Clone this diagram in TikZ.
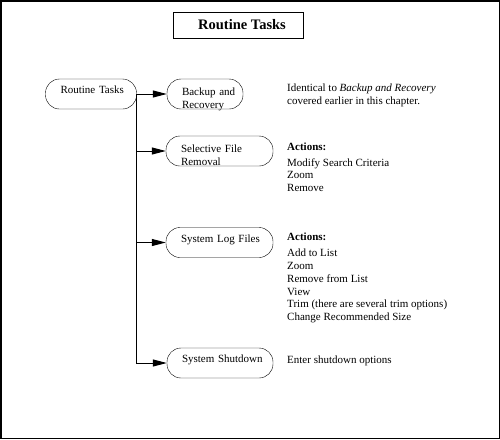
\documentclass[tikz,border=0pt]{standalone}
\usepackage{fontspec}
\setmainfont{Liberation Serif}
\usetikzlibrary{arrows.meta}
\begin{document}
\begin{tikzpicture}[x=1pt,y=-1pt,
    pill/.style={draw,rounded corners=14pt,inner xsep=15pt,inner ysep=2pt,minimum height=30pt,text depth=8pt,align=left,font=\fontsize{11}{12.5}\selectfont,execute at begin node={\hyphenpenalty=10000\relax}},
    twoline/.style={text height=11pt,text depth=8pt},
    note/.style={anchor=north west,inner sep=0pt,align=left,font=\fontsize{11}{12.8}\selectfont},
    conn/.style={line width=1pt,-{Triangle[length=14pt,width=7pt]}}]
    \useasboundingbox (0,0) rectangle (500,439);
    \draw [line width=1.5pt](0.75,0.75) rectangle (499.25,438.25);
    % titre
    \node [draw,minimum width=130pt,minimum height=26pt,font=\fontsize{14.5}{16}\selectfont\bfseries] (title) at (238,25) {\hspace{8pt}Routine Tasks};
    % les pilules
    \node [pill,text width=61pt] (root) at (91,94) {Routine~Tasks};
    \node [pill,twoline,text width=46pt] (backup) at (205,94) {Backup~and\\Recovery};
    \node [pill,twoline,text width=77pt] (selective) at (219.5,151) {Selective~File\\Removal};
    \node [pill,text width=77pt] (logfiles) at (219.5,242.5) {System~Log~Files};
    \node [pill,text width=76pt] (shutdown) at (220,363) {System~Shutdown};
    \draw [conn](root.east) -- (backup.west);
    \draw [conn](root.east) |- (shutdown.west);
    \draw [conn](root.east |- selective.west) -- (selective.west);
    \draw [conn](root.east |- logfiles.west) -- (logfiles.west);
    % les textes
    \node [note] (backupnote) at (287,84) {Identical to \textit{Backup and Recovery}\\covered earlier in this chapter.};
    \node [note] (selnote) at (287,143) {\textbf{Actions:}\\[2.5pt]Modify Search Criteria\\Zoom\\Remove};
    \node [note] (lognote) at (287,233) {\textbf{Actions:}\\[3pt]Add to List\\Zoom\\Remove from List\\View\\Trim (there are several trim options)\\Change Recommended Size};
    \node [anchor=base west,inner sep=0pt,font=\fontsize{11}{12.8}\selectfont] (shutnote) at (287,363) {Enter shutdown options};
\end{tikzpicture}
\end{document}
